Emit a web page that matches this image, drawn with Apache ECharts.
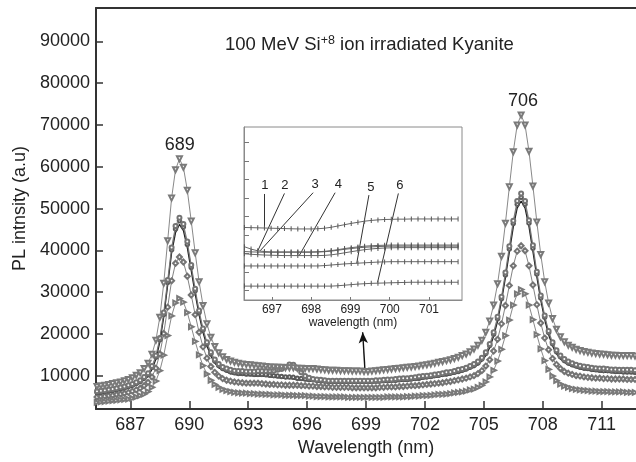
<!DOCTYPE html>
<html><head><meta charset="utf-8">
<script src="https://cdn.jsdelivr.net/npm/echarts@6/dist/echarts.min.js"></script>
<style>html,body{margin:0;padding:0;background:#fff}#c{width:636px;height:462px}</style>
</head><body><div id="c"></div>
<script>
// ---- sampling of the spectra (nm) ----
const wavelength = [];
for (let k = 0; k < 138; k++) wavelength.push(+(685.3 + 0.2 * k).toFixed(1));

// ---- main spectra (PL intensity, a.u.) ----
const curveA = [7400,7600,7700,7900,8100,8300,8500,8800,9100,9500,
10100,10700,11700,13000,15100,18500,24000,32100,42300,52500,
59300,61900,59900,54400,47000,39400,32500,26800,22400,19200,
17000,15500,14500,13900,13500,13200,13000,12800,12700,12600,
12500,12400,12300,12200,12100,12100,12000,12000,11900,11900,
11900,11800,11800,11700,11700,11700,11600,11500,11400,11300,
11300,11300,11200,11200,11200,11100,11100,11100,11000,11000,
11100,11200,11300,11400,11500,11600,11700,11800,11900,12000,
12100,12200,12300,12500,12600,12800,13000,13200,13400,13600,
13800,14100,14400,14800,15200,15700,16400,17300,18500,20400,
23100,26900,32000,38600,46500,55200,63600,70000,72400,70000,
63700,55400,46800,39000,32500,27400,23700,21100,19300,18100,
17300,16800,16300,16000,15800,15600,15400,15300,15200,15100,
15000,14900,14900,14800,14800,14800,14800,14700];
const curveB = [6300,6400,6500,6700,6800,7000,7200,7400,7700,8000,
8400,8900,9700,10600,12300,14800,19000,25100,32900,40700,
45800,47800,46300,42100,36500,30800,25600,21300,18000,15600,
13900,12800,12100,11700,11400,11200,11100,11100,11000,11000,
11000,11100,11100,11100,11100,11200,11400,11600,12100,12700,
12600,11800,10800,9900,9500,9200,9100,9000,8900,8800,
8800,8800,8800,8800,8800,8800,8800,8800,8800,8800,
8800,8900,8900,9000,9100,9100,9200,9300,9400,9400,
9500,9600,9800,9900,10000,10100,10300,10400,10600,10800,
10900,11100,11400,11600,11900,12300,12800,13400,14300,15600,
17600,20400,24100,28900,34700,41000,47100,51800,53600,51800,
47200,41200,34900,29200,24400,20700,18000,16100,14800,14000,
13400,13000,12600,12400,12200,12100,11900,11800,11700,11700,
11600,11500,11500,11400,11400,11400,11400,11300];
const curveC = [6000,6100,6200,6400,6500,6700,6900,7100,7400,7700,
8100,8600,9400,10300,12000,14400,18600,24600,32300,40100,
45100,47100,45600,41400,35900,30300,25100,20900,17600,15200,
13500,12400,11700,11300,10900,10700,10500,10500,10400,10400,
10300,10300,10300,10200,10100,10000,9900,9800,9700,9700,
9600,9400,9300,9200,9100,9000,8900,8800,8700,8600,
8600,8600,8600,8600,8600,8600,8600,8600,8600,8600,
8600,8700,8700,8800,8800,8900,8900,9000,9100,9100,
9200,9300,9400,9600,9700,9800,10000,10100,10300,10400,
10600,10800,11000,11300,11600,12000,12400,13000,14000,15300,
17200,19900,23600,28400,34100,40300,46400,51000,52700,51000,
46500,40500,34300,28600,24000,20300,17600,15700,14500,13600,
13000,12600,12300,12000,11800,11700,11500,11400,11300,11200,
11200,11100,11000,11000,10900,10900,10900,10800];
const curveD = [5600,5700,5800,6000,6100,6300,6500,6700,7000,7300,
7700,8200,9000,9800,11500,13900,18000,24000,31600,39300,
44200,46200,44700,40600,35100,29600,24500,20300,17100,14700,
13000,11900,11300,10900,10500,10300,10100,10100,10000,10000,
9900,9900,9900,9800,9700,9600,9500,9400,9300,9300,
9200,9000,8900,8800,8700,8600,8500,8400,8300,8200,
8200,8200,8200,8200,8200,8200,8200,8200,8200,8200,
8200,8300,8300,8400,8400,8500,8500,8600,8700,8700,
8800,8900,9000,9200,9300,9400,9600,9700,9900,10000,
10200,10400,10600,10900,11200,11600,12000,12600,13500,14800,
16700,19400,23000,27800,33400,39500,45500,50100,51800,50100,
45600,39700,33600,28000,23400,19800,17100,15200,14000,13200,
12600,12200,11900,11600,11400,11300,11100,11000,10900,10800,
10800,10700,10600,10600,10500,10500,10500,10400];
const curveE = [4900,5000,5100,5200,5300,5500,5600,5800,6000,6300,
6600,7000,7600,8400,9700,11800,15200,20100,26400,32700,
36900,38400,37200,33800,29300,24600,20400,16900,14200,12200,
10800,9900,9300,8900,8700,8500,8400,8300,8200,8200,
8200,8200,8100,8000,7900,7900,7800,7800,7700,7700,
7700,7700,7600,7600,7500,7500,7400,7400,7300,7300,
7200,7200,7200,7200,7200,7100,7100,7100,7100,7100,
7100,7100,7200,7200,7300,7300,7300,7400,7400,7500,
7600,7600,7700,7800,7900,8000,8100,8200,8300,8500,
8600,8800,9000,9200,9400,9700,10000,10500,11200,12300,
13800,15900,18700,22400,26800,31600,36300,39800,41100,39900,
36300,31700,27000,22600,19000,16200,14100,12700,11700,11000,
10600,10300,10000,9900,9700,9600,9500,9400,9400,9300,
9300,9200,9200,9200,9200,9100,9100,9100];
const curveF = [3600,3700,3800,3900,4000,4100,4200,4300,4400,4600,
4900,5200,5600,6200,7200,8700,11200,14900,19600,24300,
27400,28500,27600,25100,21700,18200,15000,12400,10400,8900,
7900,7200,6700,6400,6200,6000,5900,5800,5800,5700,
5700,5600,5600,5500,5500,5400,5400,5400,5300,5300,
5300,5200,5200,5200,5100,5100,5000,5000,5000,4900,
4900,4900,4900,4900,4800,4800,4800,4800,4800,4800,
4800,4800,4800,4800,4900,4900,4900,4900,4900,5000,
5000,5100,5100,5200,5200,5300,5400,5500,5500,5600,
5700,5900,6000,6100,6300,6600,6800,7200,7700,8500,
9700,11300,13500,16300,19600,23300,26900,29600,30600,29600,
26900,23400,19800,16400,13600,11500,9900,8800,8000,7500,
7200,6900,6700,6600,6500,6400,6300,6300,6200,6200,
6200,6100,6100,6100,6100,6000,6000,6000];

// ---- tick labels ----
const mainXTicks = [687,690,693,696,699,702,705,708,711];
const mainYTicks = [10000,20000,30000,40000,50000,60000,70000,80000,90000];
const insetXTicks = [697,698,699,700,701];
const insetYTicks = [0,1,2,3,4,5,6,7,8];

// ---- inset (zoom of 696.3-701.8 nm, relative units) ----
const insetWl = [];
for (let i = 0; i < 33; i++) insetWl.push(+(696.30 + 0.17 * i).toFixed(2));
const inset1 = [3.42,3.41,3.40,3.39,3.38,3.37,3.36,3.35,3.34,3.34,3.34,3.35,3.38,3.43,3.50,3.57,3.64,3.70,3.76,3.80,3.83,3.85,3.86,3.87,3.87,3.88,3.88,3.88,3.88,3.88,3.88,3.88,3.88];
const inset2 = [2.38,2.25,2.16,2.12,2.10,2.10,2.10,2.10,2.10,2.10,2.10,2.11,2.13,2.17,2.22,2.28,2.33,2.37,2.41,2.43,2.45,2.46,2.47,2.47,2.47,2.47,2.47,2.47,2.47,2.47,2.47,2.47,2.47];
const inset3 = [2.12,2.10,2.09,2.08,2.08,2.08,2.08,2.08,2.08,2.08,2.08,2.09,2.11,2.14,2.19,2.24,2.28,2.32,2.35,2.37,2.39,2.40,2.41,2.41,2.41,2.41,2.41,2.41,2.41,2.41,2.41,2.41,2.41];
const inset4 = [2.00,1.97,1.95,1.93,1.92,1.91,1.90,1.90,1.90,1.90,1.90,1.90,1.91,1.94,1.99,2.05,2.11,2.17,2.22,2.26,2.29,2.31,2.32,2.33,2.33,2.33,2.33,2.33,2.33,2.33,2.33,2.33,2.33];
const inset5 = [1.34,1.34,1.34,1.34,1.34,1.34,1.34,1.34,1.34,1.34,1.34,1.34,1.36,1.39,1.42,1.45,1.47,1.49,1.51,1.53,1.55,1.56,1.57,1.57,1.57,1.57,1.57,1.57,1.57,1.57,1.57,1.57,1.57];
const inset6 = [0.25,0.25,0.25,0.25,0.25,0.25,0.25,0.25,0.25,0.25,0.25,0.25,0.25,0.25,0.27,0.30,0.33,0.36,0.38,0.40,0.41,0.42,0.43,0.44,0.45,0.46,0.46,0.46,0.46,0.46,0.46,0.46,0.46];

// ---- annotations ----
const insetLabelNames = ['1','2','3','4','5','6'];
const insetLabelAt = [[696.82,5.71],[697.33,5.71],[698.10,5.75],[698.69,5.75],[699.52,5.59],[700.26,5.71]];
const insetPointerFrom = [[696.81,5.23],[697.32,5.26],[698.05,5.30],[698.61,5.30],[699.47,5.17],[700.22,5.26]];
const insetPointerTo = [[696.81,3.41],[696.65,2.20],[696.70,2.16],[697.69,1.88],[699.16,1.48],[699.69,0.45]];
const peakNames = ['689','706'];
const peakLabelAt = [[689.51,65200],[706.99,75800]];
const arrowFrom = [698.95, 11100];
const arrowTo = [698.83, 20400];

const FONT = "'Liberation Sans', Arial, Helvetica, sans-serif";
const pairs = (xs, ys) => xs.map((x, i) => [x, ys[i]]);
const plain = v => String(v);

const mainStyles = [
  {d: curveF, sym: 'emptyTriangle', rot: -90, size: 4.5, col: '#7a7a7a', w: 0.9},
  {d: curveE, sym: 'emptyDiamond', rot: 0, size: 5, col: '#747474', w: 0.9},
  {d: curveD, sym: 'none', rot: 0, size: 3, col: '#1c1c1c', w: 1.2},
  {d: curveC, sym: 'emptyCircle', rot: 0, size: 3.5, col: '#5a5a5a', w: 0.9},
  {d: curveB, sym: 'emptyCircle', rot: 0, size: 4, col: '#747474', w: 0.9},
  {d: curveA, sym: 'emptyTriangle', rot: 180, size: 5, col: '#7a7a7a', w: 0.9}
];

const series = mainStyles.map((s, idx) => ({
  type: 'line', xAxisIndex: 0, yAxisIndex: 0,
  data: pairs(wavelength, s.d),
  symbol: s.sym, symbolRotate: s.rot, symbolSize: s.size, showSymbol: s.sym !== 'none',
  lineStyle: {color: s.col, width: s.w},
  itemStyle: {color: s.col, borderWidth: 0.6},
  silent: true, z: 2 + idx
}));
// arrow and peak labels on the top spectrum
series[5].markLine = {
  silent: true, symbol: ['none', 'arrow'], symbolSize: [7, 11], precision: 4,
  lineStyle: {color: '#111', width: 1.4, type: 'solid'}, label: {show: false},
  data: [[{coord: arrowFrom}, {coord: arrowTo}]]
};
series[5].markPoint = {
  silent: true, symbol: 'circle', symbolSize: 0,
  label: {show: true, position: 'inside', formatter: '{b}', fontSize: 18, color: '#222', fontFamily: FONT},
  data: peakNames.map((n, i) => ({name: n, coord: peakLabelAt[i]}))
};

const insetData = [inset1, inset2, inset3, inset4, inset5, inset6];
insetData.forEach((ys) => {
  series.push({
    type: 'line', xAxisIndex: 2, yAxisIndex: 1,
    data: pairs(insetWl, ys),
    symbol: 'rect', symbolSize: [1, 5], showSymbol: true,
    lineStyle: {color: '#666', width: 1}, itemStyle: {color: '#555'},
    silent: true, z: 10
  });
});
series[6].markLine = {
  silent: true, symbol: ['none', 'none'], precision: 4,
  lineStyle: {color: '#333', width: 1, type: 'solid'}, label: {show: false},
  data: insetPointerFrom.map((p, i) => [{coord: p}, {coord: insetPointerTo[i]}])
};
series[6].markPoint = {
  silent: true, symbol: 'circle', symbolSize: 0,
  label: {show: true, position: 'inside', formatter: '{b}', fontSize: 13, color: '#222', fontFamily: FONT},
  data: insetLabelNames.map((n, i) => ({name: n, coord: insetLabelAt[i]}))
};

const option = {
  animation: false,
  backgroundColor: '#fff',
  textStyle: {fontFamily: FONT},
  grid: [
    {left: 96, right: 0, top: 8, bottom: 52, show: false},
    {left: 244, top: 127, width: 218, height: 173, show: true, borderColor: '#8a8a8a', borderWidth: 1, backgroundColor: '#fff'}
  ],
  xAxis: [
    {type: 'value', gridIndex: 0, min: 685.25, max: 712.75, position: 'bottom',
      axisLine: {show: true, onZero: false, lineStyle: {color: '#333', width: 2}},
      axisTick: {show: true, inside: true, length: 8, customValues: mainXTicks, lineStyle: {color: '#333', width: 1.5}},
      axisLabel: {show: true, customValues: mainXTicks, formatter: plain, fontSize: 18, color: '#222', margin: 7, fontFamily: FONT},
      splitLine: {show: false},
      name: 'Wavelength (nm)', nameLocation: 'middle', nameGap: 29,
      nameTextStyle: {fontSize: 18, color: '#222', fontFamily: FONT}},
    {type: 'value', gridIndex: 0, min: 685.25, max: 712.75, position: 'top',
      axisLine: {show: true, onZero: false, lineStyle: {color: '#333', width: 2}},
      axisTick: {show: false}, axisLabel: {show: false}, splitLine: {show: false}},
    {type: 'value', gridIndex: 1, min: 696.29, max: 701.84, position: 'bottom',
      axisLine: {show: true, onZero: false, lineStyle: {color: '#8a8a8a', width: 1}},
      axisTick: {show: true, inside: true, length: 3, customValues: insetXTicks, lineStyle: {color: '#777'}},
      axisLabel: {show: true, customValues: insetXTicks, formatter: plain, fontSize: 12, color: '#222', margin: 4, fontFamily: FONT},
      splitLine: {show: false},
      name: 'wavelength (nm)', nameLocation: 'middle', nameGap: 17,
      nameTextStyle: {fontSize: 12, color: '#222', fontFamily: FONT}}
  ],
  yAxis: [
    {type: 'value', gridIndex: 0, min: 2000, max: 98000,
      axisLine: {show: true, onZero: false, lineStyle: {color: '#333', width: 2}},
      axisTick: {show: true, inside: true, length: 7, customValues: mainYTicks, lineStyle: {color: '#333', width: 1.5}},
      axisLabel: {show: true, customValues: mainYTicks, formatter: plain, fontSize: 18, color: '#222', margin: 6, fontFamily: FONT},
      splitLine: {show: false},
      name: 'PL intnsity (a.u)', nameLocation: 'middle', nameGap: 66,
      nameTextStyle: {fontSize: 18, color: '#222', fontFamily: FONT}},
    {type: 'value', gridIndex: 1, min: -0.5, max: 8.85,
      axisLine: {show: true, onZero: false, lineStyle: {color: '#8a8a8a', width: 1}},
      axisTick: {show: true, inside: true, length: 5, customValues: insetYTicks, lineStyle: {color: '#777'}},
      axisLabel: {show: false}, splitLine: {show: false}}
  ],
  graphic: [{
    type: 'text', left: 225, top: 34, silent: true,
    style: {
      text: '{a|100 MeV Si}{s|+8}{a| ion irradiated Kyanite}',
      rich: {
        a: {fontSize: 18.5, fontFamily: FONT, fill: '#222', verticalAlign: 'bottom'},
        s: {fontSize: 12.5, fontFamily: FONT, fill: '#222', verticalAlign: 'bottom', padding: [0, 0, 7, 0]}
      }
    }
  }],
  series: series
};
const chart = echarts.init(document.getElementById('c'), null, {renderer: 'canvas'});
chart.setOption(option);
</script></body></html>
